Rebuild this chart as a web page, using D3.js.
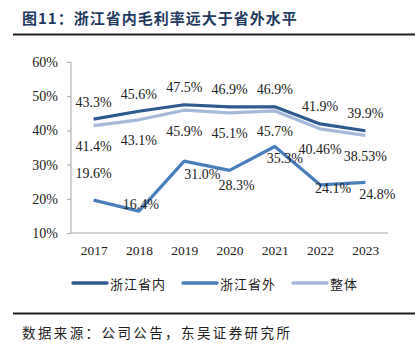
<!DOCTYPE html>
<html><head><meta charset="utf-8">
<script src="https://cdn.jsdelivr.net/npm/d3@7/dist/d3.min.js"></script>
<style>body{margin:0;background:#fff}svg{display:block}</style>
</head><body>
<svg id="c" width="418" height="356"></svg>
<script>
const years = ["2017","2018","2019","2020","2021","2022","2023"];
const inside = [43.3, 45.6, 47.5, 46.9, 46.9, 41.9, 39.9];
const outside = [19.6, 16.4, 31.0, 28.3, 35.3, 24.1, 24.8];
const overall = [41.4, 43.1, 45.9, 45.1, 45.7, 40.46, 38.53];
const insideLabels = ["43.3%","45.6%","47.5%","46.9%","46.9%","41.9%","39.9%"];
const outsideLabels = ["19.6%","16.4%","31.0%","28.3%","35.3%","24.1%","24.8%"];
const overallLabels = ["41.4%","43.1%","45.9%","45.1%","45.7%","40.46%","38.53%"];
const yTicks = [10,20,30,40,50,60];
const seriesNames = ["浙江省内","浙江省外","整体"];
const titleText = "图11：浙江省内毛利率远大于省外水平";
const sourceText = "数据来源：公司公告，东吴证券研究所";

// label placement (styling, not data)
const labelOffsets = {
  inside: years.map(()=>[0,-17]),
  overall: years.map(()=>[0,21]),
  outside: [[0,-27],[2,-7],[18,13],[7,15],[10,12],[13,4],[12,12]]
};

const svg = d3.select("#c");
const serif = "'Liberation Serif','Times New Roman',serif";
const cjk = "'Noto Sans CJK SC','Noto Sans CJK JP',sans-serif";

// title
svg.append("text").attr("x",22).attr("y",24).attr("font-family",cjk).attr("font-weight","bold")
  .attr("font-size",15).attr("letter-spacing",1).attr("fill","#1F3A60").text(titleText);
svg.append("line").attr("x1",13).attr("x2",415).attr("y1",34.5).attr("y2",34.5).attr("stroke","#222").attr("stroke-width",1.8);

const x = d3.scalePoint().domain(years).range([71,388]).padding(0.5);
const y = d3.scaleLinear().domain([10,60]).range([233,62]);

// y axis
const ya = svg.append("g").attr("transform","translate(71,0)")
  .call(d3.axisLeft(y).tickValues(yTicks).tickFormat(d=>d+"%").tickSize(4).tickPadding(9));
ya.selectAll("path,line").attr("stroke","#A6A6A6");
ya.select(".domain").attr("d","M0,62V233");
ya.selectAll("text").attr("font-family",serif).attr("font-size",14).attr("fill","#222");

// x axis
const xa = svg.append("g").attr("transform","translate(0,233)")
  .call(d3.axisBottom(x).tickSize(0).tickPadding(12));
xa.select(".domain").attr("stroke","#A6A6A6").attr("d","M71,0H388");
xa.selectAll("text").attr("font-family",serif).attr("font-size",13.5).attr("fill","#222");

const colors = ["#2E5A8E","#4A7EBB","#A7B9D8"];
const series = [
  {vals:inside, labels:insideLabels, off:labelOffsets.inside, color:colors[0]},
  {vals:overall, labels:overallLabels, off:labelOffsets.overall, color:colors[2]},
  {vals:outside, labels:outsideLabels, off:labelOffsets.outside, color:colors[1]}
];
const line = d3.line().x((d,i)=>x(years[i])).y(d=>y(d));
series.forEach(s=>{
  svg.append("path").attr("d",line(s.vals)).attr("fill","none").attr("stroke",s.color)
    .attr("stroke-width",3.2).attr("stroke-linejoin","round");
});
series.forEach(s=>{
  svg.append("g").selectAll("text").data(s.vals).join("text")
    .attr("x",(d,i)=>x(years[i])+s.off[i][0])
    .attr("y",(d,i)=>y(d)+s.off[i][1])
    .attr("text-anchor","middle").attr("dominant-baseline","central")
    .attr("font-family",serif).attr("font-size",14).attr("fill","#222")
    .text((d,i)=>s.labels[i]);
});

// legend
const legendX = [[73,107,110],[183,217,220],[293,327,330]];
seriesNames.forEach((n,i)=>{
  const g = svg.append("g");
  g.append("line").attr("x1",legendX[i][0]).attr("x2",legendX[i][1]).attr("y1",283).attr("y2",283)
    .attr("stroke",colors[i]).attr("stroke-width",3.5).attr("stroke-linecap","round");
  g.append("text").attr("x",legendX[i][2]).attr("y",283).attr("dominant-baseline","central")
    .attr("font-family",cjk).attr("font-size",13).attr("letter-spacing",1).attr("fill","#222").text(n);
});

svg.append("line").attr("x1",13).attr("x2",415).attr("y1",313.5).attr("y2",313.5).attr("stroke","#222").attr("stroke-width",1.8);
svg.append("text").attr("x",22).attr("y",332).attr("dominant-baseline","central")
  .attr("font-family",cjk).attr("font-size",13.5).attr("letter-spacing",2.4).attr("fill","#222").text(sourceText);
</script>
</body></html>
